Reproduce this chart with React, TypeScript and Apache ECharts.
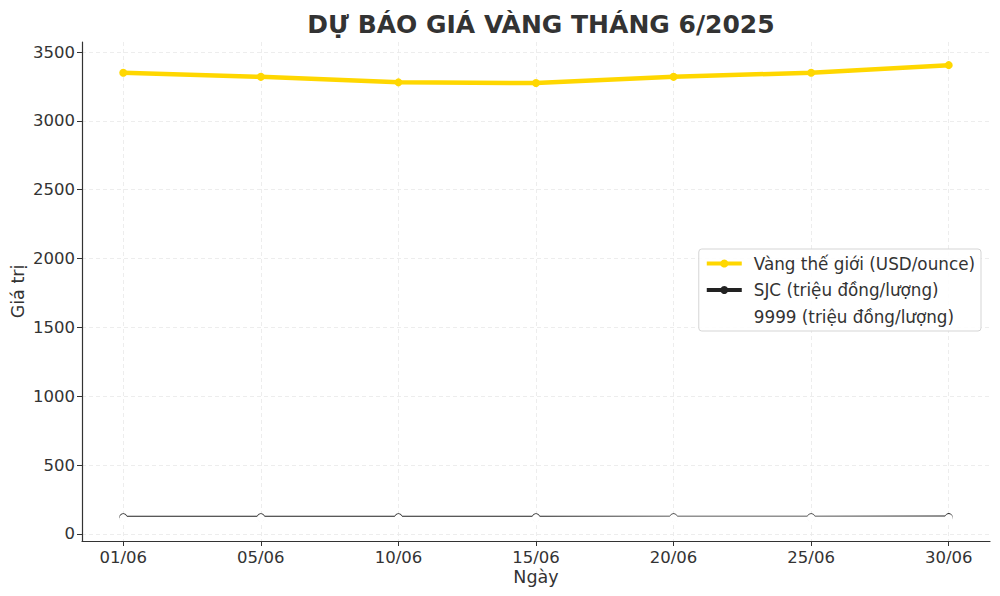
import React, { useEffect, useRef } from 'react';
import * as echarts from 'echarts';

// Ngày dự báo
const days = ['01/06', '05/06', '10/06', '15/06', '20/06', '25/06', '30/06'];
// Vàng thế giới (USD/ounce)
const worldGold = [3350, 3320, 3280, 3275, 3320, 3350, 3405];
// SJC (triệu đồng/lượng)
const sjc = [121, 121, 121, 121, 121.5, 122, 122.5];
// 9999 (triệu đồng/lượng)
const gold9999 = [115, 115, 115, 115, 115.5, 116, 116.5];
const yTicks = [0, 500, 1000, 1500, 2000, 2500, 3000, 3500];

const font = 'DejaVu Sans';
const textColor = '#333333';

const App: React.FC = () => {
  const chartRef = useRef<HTMLDivElement | null>(null);

  useEffect(() => {
    const chart = echarts.init(chartRef.current!, undefined, { renderer: 'svg' });

    const toPoints = (vals: number[]) => vals.map((v, i) => [i, v]);
    const gridLine = { show: true, lineStyle: { color: '#e8e8e8', type: [4, 3], width: 0.8 } };

    const option = {
      animation: false,
      backgroundColor: '#ffffff',
      textStyle: { fontFamily: font, color: textColor },
      title: {
        text: 'DỰ BÁO GIÁ VÀNG THÁNG 6/2025',
        left: 536,
        textAlign: 'center',
        top: 7,
        textStyle: { fontFamily: font, fontSize: 25, fontWeight: 'bold', color: textColor },
      },
      legend: {
        orient: 'vertical',
        right: 19,
        top: 249,
        padding: [6, 6, 6, 6],
        itemGap: 9.5,
        itemWidth: 35,
        itemHeight: 10,
        lineStyle: { width: 4 },
        backgroundColor: 'rgba(255,255,255,0.85)',
        borderColor: '#d5d5d5',
        borderWidth: 1,
        borderRadius: 3,
        textStyle: { fontFamily: font, fontSize: 16.8, color: textColor, padding: [0, 0, 0, 7] },
        data: ['Vàng thế giới (USD/ounce)', 'SJC (triệu đồng/lượng)', '9999 (triệu đồng/lượng)'],
      },
      grid: { left: 82, right: 10, top: 42, bottom: 55, containLabel: false, outerBoundsMode: 'none' },
      xAxis: {
        type: 'value',
        min: -0.3,
        max: 6.3,
        name: 'Ngày',
        nameLocation: 'middle',
        nameGap: 27,
        nameMoveOverlap: false,
        nameTextStyle: { fontFamily: font, fontSize: 17.5, color: textColor },
        axisLine: { onZero: false, lineStyle: { color: '#333333', width: 1.2 } },
        axisTick: { show: true, length: 5, inside: false, customValues: [0, 1, 2, 3, 4, 5, 6], lineStyle: { color: '#333333' } },
        axisLabel: {
          customValues: [0, 1, 2, 3, 4, 5, 6],
          formatter: (v: number) => days[Math.round(v)] ?? '',
          fontFamily: font,
          fontSize: 16.5,
          color: textColor,
          margin: 8,
        },
        splitLine: gridLine,
      },
      yAxis: {
        type: 'value',
        min: -51,
        max: 3573,
        name: 'Giá trị',
        nameLocation: 'middle',
        nameGap: 55,
        nameMoveOverlap: false,
        nameRotate: 90,
        nameTextStyle: { fontFamily: font, fontSize: 17.5, color: textColor },
        axisLine: { show: true, onZero: false, lineStyle: { color: '#333333', width: 1.2 } },
        axisTick: { show: true, length: 5, customValues: yTicks, lineStyle: { color: '#333333' } },
        axisLabel: {
          customValues: yTicks,
          formatter: (v: number) => String(v),
          fontFamily: font,
          fontSize: 16.5,
          color: textColor,
          margin: 7,
        },
        splitLine: gridLine,
      },
      series: [
        {
          name: 'Vàng thế giới (USD/ounce)',
          type: 'line',
          data: toPoints(worldGold),
          symbol: 'circle',
          symbolSize: 8,
          lineStyle: { color: '#FFD700', width: 4.5 },
          itemStyle: { color: '#FFD700' },
          z: 2,
        },
        {
          name: 'SJC (triệu đồng/lượng)',
          type: 'line',
          data: toPoints(sjc),
          symbol: 'circle',
          symbolSize: 8,
          lineStyle: { color: '#222222', width: 3 },
          itemStyle: { color: '#222222' },
          z: 3,
        },
        {
          name: '9999 (triệu đồng/lượng)',
          type: 'line',
          data: toPoints(gold9999),
          symbol: 'circle',
          symbolSize: 8,
          lineStyle: { color: '#ffffff', width: 3 },
          itemStyle: { color: '#ffffff' },
          z: 4,
        },
      ],
    };

    chart.setOption(option);

    return () => {
      chart.dispose();
    };
  }, []);

  return <div ref={chartRef} style={{ width: '1000px', height: '596px', margin: '-8px' }} />;
};

export default App;
